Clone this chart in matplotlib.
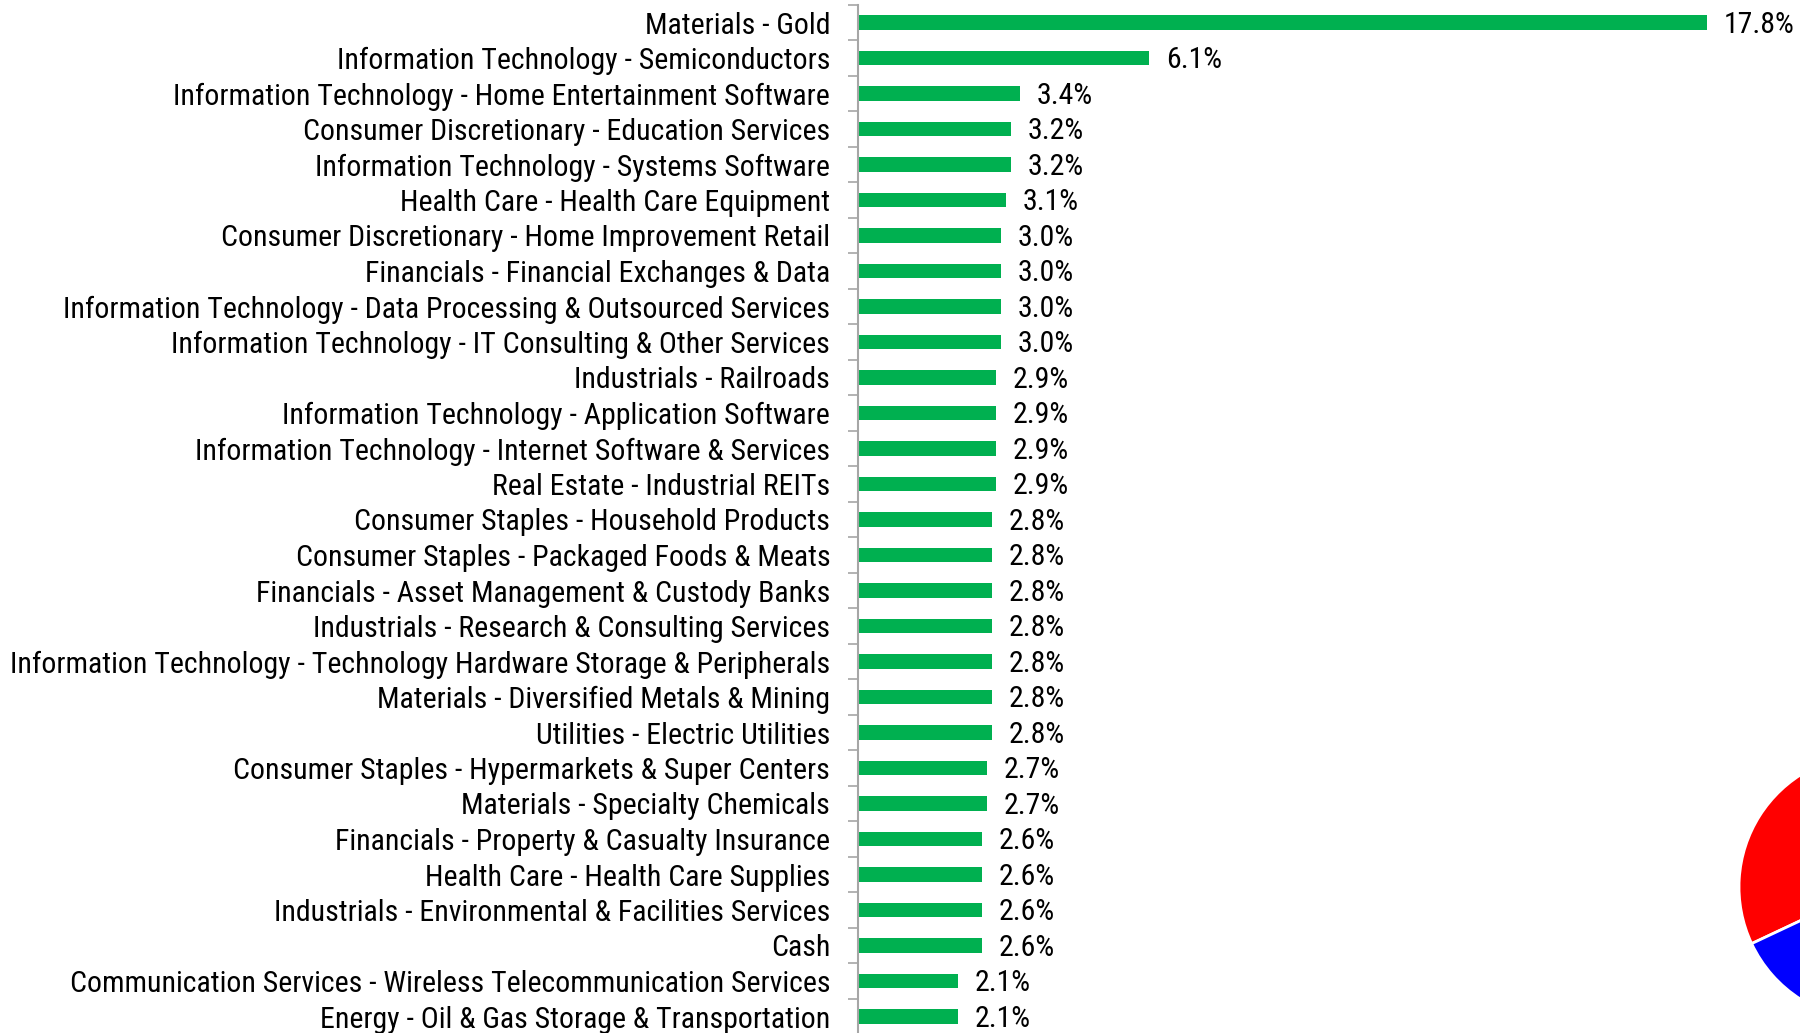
import matplotlib
matplotlib.use("Agg")
import matplotlib.pyplot as plt

plt.rcParams['font.family'] = ['Liberation Sans Narrow', 'Arial Narrow', 'Roboto Condensed',
                               'Archivo Narrow', 'PT Sans Narrow', 'DejaVu Sans']

categories = [
    "Materials - Gold",
    "Information Technology - Semiconductors",
    "Information Technology - Home Entertainment Software",
    "Consumer Discretionary - Education Services",
    "Information Technology - Systems Software",
    "Health Care - Health Care Equipment",
    "Consumer Discretionary - Home Improvement Retail",
    "Financials - Financial Exchanges & Data",
    "Information Technology - Data Processing & Outsourced Services",
    "Information Technology - IT Consulting & Other Services",
    "Industrials - Railroads",
    "Information Technology - Application Software",
    "Information Technology - Internet Software & Services",
    "Real Estate - Industrial REITs",
    "Consumer Staples - Household Products",
    "Consumer Staples - Packaged Foods & Meats",
    "Financials - Asset Management & Custody Banks",
    "Industrials - Research & Consulting Services",
    "Information Technology - Technology Hardware Storage & Peripherals",
    "Materials - Diversified Metals & Mining",
    "Utilities - Electric Utilities",
    "Consumer Staples - Hypermarkets & Super Centers",
    "Materials - Specialty Chemicals",
    "Financials - Property & Casualty Insurance",
    "Health Care - Health Care Supplies",
    "Industrials - Environmental & Facilities Services",
    "Cash",
    "Communication Services - Wireless Telecommunication Services",
    "Energy - Oil & Gas Storage & Transportation",
]
weights = [17.8, 6.1, 3.4, 3.2, 3.2, 3.1, 3.0, 3.0, 3.0, 3.0,
           2.9, 2.9, 2.9, 2.9, 2.8, 2.8, 2.8, 2.8, 2.8, 2.8,
           2.8, 2.7, 2.7, 2.6, 2.6, 2.6, 2.6, 2.1, 2.1]

# partly visible pie at the right edge
pie_values = [32, 9, 30, 29]
pie_colors = ["#ff0000", "#0000ff", "#00b050", "#ffc000"]

W, H = 1800, 1033
fig = plt.figure(figsize=(W / 100, H / 100), dpi=100)

# fit the font size so the longest label is ~820 px wide, like the reference
renderer = fig.canvas.get_renderer()
probe = fig.text(0, 0, max(categories, key=len), fontsize=20)
probe_w = probe.get_window_extent(renderer).width
probe.remove()
fs = 20 * 820 / probe_w

# bar axes: x axis at 858 px, rows 35.5 px apart starting at 22.5 px
row = 35.5
top = 22.5 - row / 2
bottom = top + row * len(categories)
ax = fig.add_axes([858 / W, 1 - bottom / H, 1 - 858 / W, (bottom - top) / H])

y = list(range(len(categories)))
ax.barh(y, weights, height=0.42, color="#00b050")
ax.set_ylim(len(categories) - 0.5, -0.5)
ax.set_xlim(0, (W - 858) / 47.7)

for yi, w in zip(y, weights):
    ax.text(w + 0.35, yi + 0.06, f"{w:.1f}%", va="center", ha="left",
            fontsize=fs, color="black", clip_on=False)

ax.set_yticks([i + 0.5 for i in range(-1, len(categories))], minor=False)
ax.set_yticklabels([])
ax.set_yticks(y, minor=True)
ax.set_yticklabels(categories, minor=True, fontsize=fs)
ax.tick_params(axis="y", which="major", length=7, width=1.2, color="#a6a6a6",
               direction="out")
ax.tick_params(axis="y", which="minor", length=0, pad=20)
ax.set_xticks([])
for side in ["top", "right", "bottom"]:
    ax.spines[side].set_visible(False)
ax.spines["left"].set_color("#a6a6a6")
ax.spines["left"].set_linewidth(1.5)
ax.patch.set_alpha(0)

# pie: centre near (1872, 887) px, radius 133 px
r = 133
cx, cy = 1872, 887
pax = fig.add_axes([(cx - r) / W, 1 - (cy + r) / H, 2 * r / W, 2 * r / H])
pax.pie(pie_values, colors=pie_colors, startangle=90, counterclock=True,
        wedgeprops=dict(edgecolor="white", linewidth=2))
pax.set_aspect("equal")
pax.set_xlim(-1, 1)
pax.set_ylim(-1, 1)
pax.axis("off")

fig.savefig("out.png", dpi=100)
